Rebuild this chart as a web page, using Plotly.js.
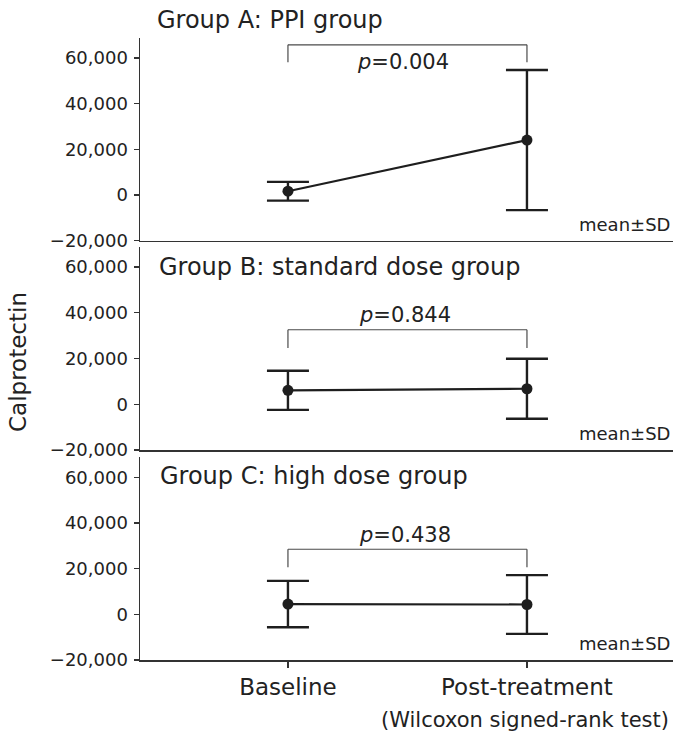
<!DOCTYPE html>
<html><head><meta charset="utf-8">
<script src="https://cdn.plot.ly/plotly-3.0.1.min.js"></script>
<style>html,body{margin:0;padding:0;background:#fff}#chart{width:673px;height:732px}</style>
</head><body><div id="chart"></div>
<script>
const timepoints = ['Baseline', 'Post-treatment'];
const groupTitles = ['Group A: PPI group', 'Group B: standard dose group', 'Group C: high dose group'];
const meanA = [1700, 24100];
const sdA = [4100, 30700];
const meanB = [6100, 6800];
const sdB = [8550, 13100];
const meanC = [4500, 4300];
const sdC = [10150, 12850];
const pValues = ['0.004', '0.844', '0.438'];
const bracketTop = [65800, 32600, 28500];
const bracketLeg = [58200, 24600, 20600];
const pLabelY = [58100, 38950, 34800];
const pLabelX = [0.48, 0.49, 0.49];
const yTickVals = [-20000, 0, 20000, 40000, 60000];
const yTickText = ['\u221220,000', '0', '20,000', '40,000', '60,000'];

const FONT = 'DejaVu Sans, Verdana, sans-serif';
const INK = '#1e1e1e';
const means = [meanA, meanB, meanC];
const sds = [sdA, sdB, sdC];
const sfx = ['', '2', '3'];
const domains = [[0.674, 1], [0.3376, 0.664], [0, 0.326]];

const traces = means.map((m, i) => ({
  type: 'scatter', mode: 'lines+markers',
  x: timepoints, y: m,
  xaxis: 'x' + sfx[i], yaxis: 'y' + sfx[i],
  line: {color: INK, width: 2.2},
  marker: {color: INK, size: 11},
  error_y: {type: 'data', array: sds[i], visible: true, width: 21, thickness: 2.4, color: INK},
  hoverinfo: 'skip', showlegend: false
}));

const layout = {
  width: 673, height: 732,
  margin: {l: 140, r: 0, t: 38, b: 72},
  paper_bgcolor: '#fff', plot_bgcolor: '#fff',
  font: {family: FONT, color: '#222', size: 18},
  showlegend: false,
  shapes: [], annotations: []
};

for (let i = 0; i < 3; i++) {
  const xa = {
    type: 'category', range: [-0.619, 1.611], domain: [0, 1],
    anchor: 'y' + sfx[i],
    showline: true, linecolor: '#333', linewidth: 1.5,
    showgrid: false, zeroline: false,
    ticks: i === 2 ? 'outside' : '', ticklen: 6, tickwidth: 1.3, tickcolor: '#333',
    showticklabels: i === 2,
    tickfont: {size: 23, family: FONT, color: '#222'},
    fixedrange: true
  };
  const ya = {
    range: [-20000, 68800], domain: domains[i],
    anchor: 'x' + sfx[i],
    showline: true, linecolor: '#333', linewidth: 1.5,
    showgrid: false, zeroline: false,
    ticks: 'outside', ticklen: 5, tickwidth: 1.3, tickcolor: '#333',
    ticklabelstandoff: 2,
    tickvals: yTickVals, ticktext: yTickText,
    tickfont: {size: 18, family: FONT, color: '#222'},
    fixedrange: true
  };
  layout['xaxis' + sfx[i]] = xa;
  layout['yaxis' + sfx[i]] = ya;

  const xr = 'x' + sfx[i], yr = 'y' + sfx[i];
  const br = {color: '#4a4a4a', width: 1.2};
  layout.shapes.push(
    {type: 'line', xref: xr, yref: yr, x0: 0, x1: 1, y0: bracketTop[i], y1: bracketTop[i], line: br},
    {type: 'line', xref: xr, yref: yr, x0: 0, x1: 0, y0: bracketLeg[i], y1: bracketTop[i], line: br},
    {type: 'line', xref: xr, yref: yr, x0: 1, x1: 1, y0: bracketLeg[i], y1: bracketTop[i], line: br}
  );
  layout.annotations.push(
    {xref: xr, yref: yr, x: pLabelX[i], y: pLabelY[i], text: '<i>p</i>=' + pValues[i],
     showarrow: false, xanchor: 'center', yanchor: 'middle', font: {size: 21, family: FONT, color: '#222'}},
    {xref: 'paper', yref: yr + ' domain', x: 1, y: 0, text: 'mean\u00b1SD', showarrow: false,
     xanchor: 'right', yanchor: 'bottom', yshift: 4, xshift: -1, font: {size: 18, family: FONT, color: '#222'}},
    {xref: 'paper', yref: yr + ' domain', x: 0, y: 1, text: groupTitles[i], showarrow: false,
     xanchor: 'left', yanchor: 'middle', xshift: [15, 17, 18][i], yshift: [18, -20, -19][i],
     font: {size: 24, family: FONT, color: '#222'}}
  );
}

layout.annotations.push(
  {xref: 'paper', yref: 'paper', x: 0, y: 0.5, xanchor: 'center', yanchor: 'middle',
   xshift: -122, yshift: -13, text: 'Calprotectin', textangle: -90, showarrow: false,
   font: {size: 23, family: FONT, color: '#222'}},
  {xref: 'paper', yref: 'paper', x: 1, y: 0, xanchor: 'right', yanchor: 'middle',
   xshift: -2, yshift: -60, text: '(Wilcoxon signed-rank test)', showarrow: false,
   font: {size: 21, family: FONT, color: '#222'}}
);

Plotly.newPlot('chart', traces, layout, {displayModeBar: false, staticPlot: true});
</script></body></html>
